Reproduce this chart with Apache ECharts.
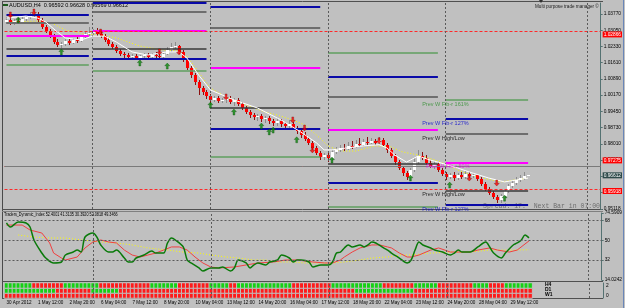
<!DOCTYPE html>
<html><head><meta charset="utf-8">
<script src="https://cdn.jsdelivr.net/npm/echarts@6/dist/echarts.min.js"></script>
<style>html,body{margin:0;padding:0;background:#c0c0c0;overflow:hidden}#c{width:625px;height:308px}</style>
</head><body><div id="c"></div>
<script>
const SLOTS = 152;
const symbolTitle = 'AUDUSD,H4  0.96592 0.96628 0.96569 0.96612';
const tdiTitle = 'Traders_Dynamic_Index 52.4001 41.3135 30.3920 52.0818 49.3466';
const managerText = 'Multi purpose trade manager \u00a9';
const spreadText = 'Spread: 17.  Next Bar in 07:00';
const timeLabels = ['30 Apr 2012','1 May 12:00','2 May 20:00','6 May 04:00','7 May 12:00','8 May 20:00','10 May 04:00','13 May 12:00','14 May 20:00','16 May 04:00','17 May 12:00','18 May 20:00','22 May 04:00','23 May 12:00','24 May 20:00','28 May 04:00','29 May 12:00'];
const timeLabelIdx = [0,8,16,24,32,40,48,56,64,72,80,88,96,104,112,120,128];
const priceMin = 0.95118, priceMax = 1.0426;
const priceTicks = [1.0377,1.0305,1.0233,1.0161,1.0089,1.0017,0.9945,0.9873,0.9801,0.9729,0.9657,0.9585,0.95118];
const tdiMin = 14.0242, tdiMax = 74.5909;
const tdiTicks = [74.5909,68,50,32,14.0242];
const tdiLevels = [68,50,32];

// [open, close, low, high]
const candles = [
[1.0342,1.0351,1.0333,1.0364],[1.0351,1.0337,1.0328,1.0368],[1.0337,1.0346,1.0328,1.0355],[1.0346,1.0342,1.0333,1.0359],
[1.0342,1.0355,1.0337,1.0364],[1.0355,1.0364,1.0346,1.0373],[1.0364,1.0373,1.0355,1.0386],[1.0373,1.0377,1.0359,1.0391],
[1.0377,1.0351,1.0342,1.0386],[1.0351,1.0319,1.0311,1.0359],[1.0319,1.0302,1.0293,1.0328],[1.0302,1.0279,1.0271,1.0311],
[1.0279,1.0253,1.0244,1.0288],[1.0253,1.0240,1.0231,1.0266],[1.0240,1.0244,1.0226,1.0253],[1.0244,1.0257,1.0235,1.0266],
[1.0257,1.0248,1.0240,1.0266],[1.0248,1.0262,1.0244,1.0271],[1.0262,1.0257,1.0248,1.0275],[1.0257,1.0275,1.0253,1.0284],
[1.0275,1.0288,1.0271,1.0302],[1.0288,1.0293,1.0279,1.0319],[1.0293,1.0302,1.0284,1.0311],[1.0302,1.0288,1.0279,1.0315],
[1.0288,1.0279,1.0271,1.0302],[1.0279,1.0262,1.0253,1.0288],[1.0262,1.0244,1.0235,1.0271],[1.0244,1.0231,1.0222,1.0253],
[1.0231,1.0213,1.0204,1.0240],[1.0213,1.0200,1.0191,1.0222],[1.0200,1.0195,1.0182,1.0209],[1.0195,1.0186,1.0178,1.0204],
[1.0186,1.0191,1.0173,1.0200],[1.0191,1.0182,1.0173,1.0200],[1.0182,1.0191,1.0169,1.0195],[1.0191,1.0195,1.0182,1.0204],
[1.0195,1.0186,1.0178,1.0204],[1.0186,1.0195,1.0182,1.0204],[1.0195,1.0191,1.0182,1.0209],[1.0191,1.0186,1.0178,1.0213],
[1.0186,1.0200,1.0182,1.0209],[1.0200,1.0217,1.0195,1.0231],[1.0217,1.0231,1.0209,1.0248],[1.0231,1.0235,1.0222,1.0253],
[1.0235,1.0209,1.0200,1.0240],[1.0209,1.0173,1.0164,1.0217],[1.0173,1.0137,1.0128,1.0182],[1.0137,1.0106,1.0093,1.0146],
[1.0106,1.0076,1.0062,1.0115],[1.0076,1.0049,1.0018,1.0084],[1.0049,1.0031,1.0018,1.0058],[1.0031,1.0013,1.0000,1.0040],
[1.0013,0.9996,0.9982,1.0022],[0.9996,1.0004,0.9987,1.0013],[1.0004,0.9991,0.9982,1.0013],[0.9991,0.9996,0.9982,1.0004],
[0.9996,1.0000,0.9982,1.0009],[1.0000,0.9987,0.9978,1.0013],[0.9987,0.9996,0.9969,1.0004],[0.9996,0.9978,0.9969,1.0004],
[0.9978,0.9960,0.9951,0.9987],[0.9960,0.9942,0.9933,0.9969],[0.9942,0.9929,0.9915,0.9951],[0.9929,0.9920,0.9907,0.9938],
[0.9920,0.9924,0.9902,0.9933],[0.9924,0.9911,0.9898,0.9933],[0.9911,0.9915,0.9893,0.9924],[0.9915,0.9902,0.9889,0.9924],
[0.9902,0.9893,0.9880,0.9911],[0.9893,0.9902,0.9880,0.9915],[0.9902,0.9889,0.9876,0.9911],[0.9889,0.9880,0.9867,0.9898],
[0.9880,0.9889,0.9871,0.9907],[0.9889,0.9871,0.9862,0.9898],[0.9871,0.9858,0.9845,0.9880],[0.9858,0.9841,0.9828,0.9867],
[0.9841,0.9824,0.9815,0.9854],[0.9824,0.9806,0.9797,0.9832],[0.9806,0.9783,0.9774,0.9815],[0.9783,0.9760,0.9751,0.9792],
[0.9760,0.9742,0.9729,0.9769],[0.9742,0.9751,0.9729,0.9760],[0.9751,0.9738,0.9720,0.9760],[0.9738,0.9765,0.9725,0.9774],
[0.9765,0.9774,0.9756,0.9788],[0.9774,0.9783,0.9765,0.9797],[0.9783,0.9779,0.9769,0.9801],[0.9779,0.9792,0.9774,0.9810],
[0.9792,0.9788,0.9779,0.9815],[0.9788,0.9801,0.9783,0.9819],[0.9801,0.9797,0.9788,0.9828],[0.9797,0.9810,0.9792,0.9824],
[0.9810,0.9806,0.9797,0.9832],[0.9806,0.9815,0.9801,0.9828],[0.9815,0.9806,0.9797,0.9824],[0.9806,0.9819,0.9801,0.9832],
[0.9819,0.9797,0.9788,0.9828],[0.9797,0.9774,0.9760,0.9806],[0.9774,0.9747,0.9738,0.9783],[0.9747,0.9720,0.9707,0.9756],
[0.9720,0.9694,0.9685,0.9729],[0.9694,0.9672,0.9658,0.9703],[0.9672,0.9654,0.9641,0.9680],[0.9654,0.9685,0.9636,0.9694],
[0.9685,0.9720,0.9676,0.9738],[0.9720,0.9747,0.9711,0.9774],[0.9747,0.9738,0.9729,0.9765],[0.9738,0.9716,0.9707,0.9751],
[0.9716,0.9703,0.9694,0.9729],[0.9703,0.9711,0.9689,0.9725],[0.9711,0.9685,0.9676,0.9720],[0.9685,0.9667,0.9658,0.9694],
[0.9667,0.9654,0.9641,0.9676],[0.9654,0.9663,0.9645,0.9672],[0.9663,0.9649,0.9636,0.9676],[0.9649,0.9663,0.9641,0.9672],
[0.9663,0.9654,0.9645,0.9676],[0.9654,0.9667,0.9645,0.9680],[0.9667,0.9658,0.9649,0.9676],[0.9658,0.9663,0.9649,0.9672],
[0.9663,0.9645,0.9636,0.9667],[0.9645,0.9623,0.9614,0.9654],[0.9623,0.9601,0.9592,0.9632],[0.9601,0.9583,0.9574,0.9609],
[0.9583,0.9565,0.9556,0.9592],[0.9565,0.9552,0.9538,0.9574],[0.9552,0.9569,0.9538,0.9578],[0.9569,0.9592,0.9560,0.9601],
[0.9592,0.9614,0.9583,0.9623],[0.9614,0.9627,0.9605,0.9641],[0.9627,0.9641,0.9618,0.9654],[0.9641,0.9649,0.9632,0.9663],
[0.9649,0.9658,0.9641,0.9676],[0.96592,0.96612,0.96569,0.96628]
];

const maFast = [[0,1.0359],[5,1.0368],[8,1.0359],[10,1.0342],[13,1.0297],[15,1.0271],[19,1.0262],[22,1.0279],[25,1.0279],[28,1.0253],[32,1.0209],[36,1.0195],[41,1.0209],[44,1.0209],[46,1.0182],[49,1.0106],[52,1.0040],[58,0.9996],[64,0.9960],[70,0.9907],[75,0.9854],[79,0.9806],[81,0.9774],[83,0.9774],[87,0.9783],[91,0.9792],[95,0.9797],[97,0.9783],[99,0.9751],[102,0.9720],[105,0.9747],[108,0.9729],[110,0.9720],[115,0.9694],[118,0.9676],[123,0.9649],[127,0.9632],[133,0.9649]];
const maSlow = [[0,1.0342],[8,1.0346],[12,1.0333],[15,1.0306],[20,1.0288],[24,1.0284],[28,1.0271],[34,1.0235],[40,1.0217],[44,1.0213],[46,1.0191],[49,1.0119],[52,1.0049],[56,1.0009],[61,0.9973],[66,0.9942],[69,0.9929],[73,0.9907],[76,0.9885],[79,0.9841],[82,0.9792],[85,0.9769],[89,0.9769],[94,0.9792],[98,0.9788],[101,0.9765],[105,0.9751],[110,0.9725],[115,0.9685],[120,0.9654],[126,0.9632],[133,0.9649]];

const buySignals = [[3,1.0351],[14,1.0209],[34,1.0160],[41,1.0146],[52,0.9973],[58,0.9942],[65,0.9880],[67,0.9854],[68,0.9862],[74,0.9819],[83,0.9729],[103,0.9649],[113,0.9618],[127,0.9560]];
const sellSignals = [[1,1.0373],[7,1.0386],[24,1.0297],[39,1.0209],[44,1.0209],[56,1.0009],[73,0.9907],[76,0.9871],[78,0.9774],[95,0.9815],[118,0.9649],[125,0.9627]];

const weekStart = [0,22,52,82,112];
const weekEnd = [21,51,80,110,133];
const separatorIdx = [22,52,82,112,148];
const fib161Up = [null,null,null,1.0204,0.9995];
const fib127Up = [1.0373,1.0426,1.0408,1.0097,0.9911];
const prevHigh = [1.0337,1.0386,1.0315,1.0012,0.9844];
const fib50 = [1.0279,1.0301,1.0137,0.9862,0.9719];
const prevLow = [1.0222,1.0222,0.9960,0.9711,0.9595];
const fib127Dn = [1.0191,1.0178,0.9867,0.9627,0.9529];
const fib161Dn = [1.0151,1.0124,0.9742,0.9520,null];

const levelLabelText = ['Prev W Fib-r 161%','Prev W Fib-r 127%','Prev W High/Low','Prev W Fib-r 50%','Prev W High/Low','Prev W Fib-r 127%'];
const levelLabelPrice = [0.9995,0.9911,0.9844,0.9719,0.9595,0.9529];
const levelLabelIdx = [106,106,106,107,106,106];
const levelLabelColor = ['#2f8f2f','#0000d0','#000000','#ff00ff','#000000','#0000d0'];

const redLevels = [1.02866,0.97275,0.95918];
const bidPrice = 0.96612;
const priceTags = [1.02866,0.97275,0.96612,0.95918];

const tdiGreen = [[0,65.6],[1,61.9],[3,66.5],[5,65.6],[6,61.9],[7,50.2],[9,38.4],[10,33.9],[12,29.4],[14,30.3],[15,36.6],[17,39.3],[18,41.1],[19,39.3],[20,52.9],[22,56.5],[23,52.9],[24,45.7],[26,39.3],[27,39.3],[28,41.1],[30,33.9],[31,30.3],[32,30.3],[33,33.9],[35,36.6],[37,40.2],[38,38.4],[40,38.4],[41,47.5],[42,52.0],[43,50.2],[45,43.9],[46,32.1],[47,29.4],[49,24.9],[50,22.2],[52,24.9],[54,24.9],[55,25.8],[57,22.2],[58,24.9],[59,32.1],[61,29.4],[62,24.9],[63,27.6],[64,29.4],[66,27.6],[67,30.3],[69,32.1],[70,36.6],[72,33.9],[73,30.3],[74,32.1],[75,32.1],[77,30.3],[78,25.8],[80,27.6],[82,27.6],[83,30.3],[84,38.4],[85,39.3],[86,43.0],[87,45.7],[88,43.9],[90,45.7],[91,43.9],[92,45.7],[93,48.4],[94,47.5],[96,43.0],[97,41.1],[98,38.4],[100,33.9],[102,29.4],[103,32.1],[104,41.1],[105,48.4],[106,45.7],[108,43.0],[109,41.1],[111,39.3],[113,36.6],[114,38.4],[115,41.1],[116,39.3],[118,39.3],[120,43.9],[122,48.4],[123,43.9],[124,38.4],[126,33.9],[127,38.4],[129,45.7],[130,47.5],[131,50.0],[132,54.7],[133,52.08]];
const tdiSignal = [[0,63.7],[2,63.7],[4,63.7],[6,59.2],[9,56.5],[11,47.5],[12,38.4],[14,33.9],[15,32.1],[18,34.8],[20,43.0],[22,48.4],[24,50.2],[26,48.4],[28,47.5],[30,41.1],[32,36.6],[34,34.8],[36,36.6],[38,38.4],[40,41.1],[42,43.9],[44,43.9],[46,41.1],[48,34.8],[50,29.4],[52,25.8],[54,24.9],[58,25.8],[61,27.6],[64,29.4],[68,30.3],[71,32.1],[74,32.1],[78,30.3],[81,29.4],[83,29.4],[85,32.1],[86,34.8],[88,39.3],[90,43.0],[91,43.9],[93,45.7],[95,45.7],[97,43.9],[98,43.0],[100,38.4],[102,34.8],[103,34.8],[105,36.6],[108,41.1],[110,43.0],[113,39.3],[115,39.3],[118,39.3],[120,41.1],[123,43.0],[125,41.1],[128,39.3],[130,41.1],[133,49.35]];
const tdiBase = [[3,54.7],[7,52.9],[11,52.0],[15,52.0],[19,50.2],[24,48.4],[28,47.5],[32,45.7],[36,43.0],[41,41.1],[45,39.3],[49,38.4],[52,36.6],[56,34.8],[59,33.9],[63,32.1],[66,32.1],[69,30.3],[73,30.3],[76,29.4],[80,29.4],[83,29.4],[86,30.3],[90,32.1],[93,33.9],[97,34.8],[100,36.6],[103,36.6],[108,38.4],[113,39.3],[118,39.3],[123,41.1],[128,41.1],[133,41.31]];

const rowNames = ['W1','D1','H4'];
const heatH4 = '1111111'+'00000000'+'111111111'+'0000000000000'+'1111111'+'00000000'+'11111'+'00'+'11111111111111'+'0000000000'+'1111111111111'+'00000000'+'111111'+'000000000'+'1111'+'0000'+'1111111';
const heatD1 = '1111111111111'+'000000000'+'1111111'+'000000000000000000000000000000'+'000000000000000000000000000000'+'111111111111111'+'000000000000000000000000000000';
const heatW1 = '0000000000'+'0000000000'+'0000000000'+'0000000000'+'0000000000'+'0000000000'+'0000000000'+'0000000000'+'0000000000'+'0000000000'+'0000000000'+'0000000000'+'0000000000'+'0000';

const F = 'Liberation Sans';
const slots = Array.from({length: SLOTS}, (_, i) => i);
const chart = echarts.init(document.getElementById('c'), null, {renderer: 'canvas', width: 625, height: 308});

function candleItem(params, api) {
  const j = api.value(0), o = api.value(1), c = api.value(2), l = api.value(3), h = api.value(4);
  const po = api.coord([j, o]), pc = api.coord([j, c]), pl = api.coord([j, l]), ph = api.coord([j, h]);
  const xc = Math.round(po[0]);
  const bull = c >= o;
  const top = Math.round(Math.min(po[1], pc[1])), bot = Math.round(Math.max(po[1], pc[1]));
  return {type: 'group', children: [
    {type: 'line', shape: {x1: xc + 0.5, y1: Math.round(ph[1]), x2: xc + 0.5, y2: Math.round(pl[1])},
     style: {stroke: bull ? '#8c8c8c' : '#8a1010', lineWidth: 1}},
    {type: 'rect', shape: {x: xc - 1, y: top, width: 3, height: Math.max(1, bot - top)},
     style: {fill: bull ? '#ffffff' : '#ff0000'}}
  ]};
}

function segLines(vals, color, width) {
  const data = [];
  vals.forEach((v, k) => { if (v != null) data.push([{coord: [weekStart[k], v]}, {coord: [weekEnd[k], v]}]); });
  return {type: 'line', xAxisIndex: 0, yAxisIndex: 0, data: [], silent: true, z: 1,
    markLine: {symbol: ['none', 'none'], silent: true, animation: false, label: {show: false},
      lineStyle: {color: color, width: width, type: 'solid'}, data: data}};
}

const sepLine = () => ({symbol: ['none','none'], silent: true, animation: false, label: {show: false},
  lineStyle: {color: '#5a5a5a', width: 1, type: [2, 2]}, data: separatorIdx.map(x => ({xAxis: x}))});

const upArrow = 'path://M4,0L8,4L5.5,4L5.5,9L2.5,9L2.5,4L0,4Z';
const downArrow = 'path://M4,9L8,5L5.5,5L5.5,0L2.5,0L2.5,5L0,5Z';

const axisX = (gi, showLabel) => ({
  type: 'category', gridIndex: gi, data: slots, boundaryGap: true,
  axisLine: {show: false}, axisTick: {show: false}, splitLine: {show: false},
  axisLabel: showLabel ? {
    show: true, interval: (idx) => timeLabelIdx.indexOf(idx) >= 0,
    formatter: (v, idx) => timeLabels[timeLabelIdx.indexOf(idx)] || '',
    align: 'left', margin: 2, fontSize: 4.6, fontFamily: F, color: '#000'
  } : {show: false}
});

const hLineSeries = {type: 'line', xAxisIndex: 0, yAxisIndex: 0, data: [], z: 2,
  markLine: {symbol: ['none','none'], silent: true, animation: false, label: {show: false},
    data: redLevels.map(v => ({yAxis: v, lineStyle: {color: '#ff2a2a', width: 1, type: [3, 2]}}))
      .concat([{yAxis: bidPrice, lineStyle: {color: '#7a7a7a', width: 1, type: 'solid'}}])}};

const option = {
  animation: false,
  backgroundColor: '#c0c0c0',
  grid: [
    {left: 4.5, right: 22, top: 3, height: 206},
    {left: 4.5, right: 22, top: 213, height: 67},
    {left: 4.5, right: 22, top: 283, height: 15}
  ],
  xAxis: [axisX(0, false), axisX(1, false), axisX(2, true)],
  yAxis: [
    {type: 'value', gridIndex: 0, position: 'right', min: priceMin, max: priceMax,
     axisLine: {show: true, lineStyle: {color: '#557272', width: 1}},
     axisTick: {show: true, length: 2, customValues: priceTicks, lineStyle: {color: '#557272'}},
     splitLine: {show: false},
     axisLabel: {customValues: priceTicks, formatter: v => v.toFixed(5), fontSize: 4.8, fontFamily: F, color: '#000', margin: 3}},
    {type: 'value', gridIndex: 1, position: 'right', min: tdiMin, max: tdiMax,
     axisLine: {show: true, lineStyle: {color: '#557272', width: 1}},
     axisTick: {show: true, length: 2, customValues: tdiTicks, lineStyle: {color: '#557272'}},
     splitLine: {show: false},
     axisLabel: {customValues: tdiTicks, formatter: v => String(v), fontSize: 4.8, fontFamily: F, color: '#000', margin: 3}},
    {type: 'category', gridIndex: 2, position: 'right', data: rowNames,
     axisLine: {show: true, lineStyle: {color: '#557272', width: 1}},
     axisTick: {show: false}, splitLine: {show: false},
     axisLabel: {fontSize: 4.8, fontFamily: F, color: '#000', margin: 3,
       formatter: (v, i) => i === 0 ? '0' : (i === 2 ? '2' : '')}},
    {type: 'value', gridIndex: 0, position: 'right', min: priceMin, max: priceMax,
     axisLine: {show: false}, axisTick: {show: false}, splitLine: {show: false},
     axisLabel: {customValues: priceTags, margin: 2, fontSize: 4.8, fontFamily: F,
       formatter: v => (Math.abs(v - bidPrice) < 1e-9 ? '{d|' : '{r|') + v.toFixed(5) + '}',
       rich: {r: {backgroundColor: '#ff0000', color: '#ffffff', padding: [1, 1, 0, 1], fontSize: 4.8, fontFamily: F},
              d: {backgroundColor: '#2e4a4a', color: '#ffffff', padding: [1, 1, 0, 1], fontSize: 4.8, fontFamily: F}}}}
  ],
  visualMap: {type: 'piecewise', show: false, seriesIndex: 14, dimension: 2,
    pieces: [{value: 0, color: '#ff1a1a'}, {value: 1, color: '#14d214'}]},
  series: [
    segLines(fib161Dn, '#5f9f5f', 1.5),
    segLines(fib161Up, '#5f9f5f', 1.5),
    segLines(fib127Up, '#0a0aa8', 2),
    segLines(fib127Dn, '#0a0aa8', 2),
    segLines(prevHigh, '#6e6e6e', 2),
    segLines(prevLow, '#3a3a3a', 1.5),
    segLines(fib50, '#ff00ff', 2),
    hLineSeries,
    {type: 'line', xAxisIndex: 0, yAxisIndex: 0, data: maSlow, showSymbol: false, z: 3,
     lineStyle: {color: '#ffff00', width: 1, type: [1, 2]}},
    {type: 'custom', xAxisIndex: 0, yAxisIndex: 0, renderItem: candleItem, z: 4,
     data: candles.map((d, i) => [i, d[0], d[1], d[2], d[3]]),
     encode: {x: 0, y: [1, 2, 3, 4]}, markLine: sepLine()},
    {type: 'line', xAxisIndex: 0, yAxisIndex: 0, data: maFast, showSymbol: false, z: 5,
     lineStyle: {color: '#ffffff', width: 1}},
    {type: 'scatter', xAxisIndex: 0, yAxisIndex: 0, data: buySignals, symbol: upArrow, symbolSize: [5, 6], z: 6,
     itemStyle: {color: '#0a8a0a', borderColor: '#004400', borderWidth: 0.4}},
    {type: 'scatter', xAxisIndex: 0, yAxisIndex: 0, data: sellSignals, symbol: downArrow, symbolSize: [5, 6], z: 6,
     itemStyle: {color: '#ff0000', borderColor: '#6a0000', borderWidth: 0.4}},
    {type: 'scatter', xAxisIndex: 0, yAxisIndex: 0, symbolSize: 0, z: 7,
     data: levelLabelText.map((t, k) => ({value: [levelLabelIdx[k], levelLabelPrice[k]],
       label: {show: true, position: [0, 1], formatter: t, color: levelLabelColor[k], fontSize: 5.5, fontFamily: F}}))},
    {type: 'heatmap', xAxisIndex: 2, yAxisIndex: 2,
     data: [].concat(
       heatW1.split('').map((c, j) => [j, 0, +c]),
       heatD1.split('').map((c, j) => [j, 1, +c]),
       heatH4.split('').map((c, j) => [j, 2, +c])),
     itemStyle: {borderColor: '#c0c0c0', borderWidth: 1}, markLine: sepLine()},
    {type: 'line', xAxisIndex: 1, yAxisIndex: 1, data: tdiBase, showSymbol: false,
     lineStyle: {color: '#ffff00', width: 1, type: [1, 2]},
     markLine: {symbol: ['none','none'], silent: true, animation: false, label: {show: false},
       data: tdiLevels.map(v => ({yAxis: v, lineStyle: {color: '#5a5a5a', width: 1, type: [2, 2]}}))
         .concat(separatorIdx.map(x => ({xAxis: x, lineStyle: {color: '#5a5a5a', width: 1, type: [2, 2]}})))}},
    {type: 'line', xAxisIndex: 1, yAxisIndex: 1, data: tdiSignal, showSymbol: false,
     lineStyle: {color: '#f04040', width: 1}},
    {type: 'line', xAxisIndex: 1, yAxisIndex: 1, data: tdiGreen, showSymbol: false, smooth: 0.3,
     lineStyle: {color: '#0a7a0a', width: 1.5}}
  ],
  graphic: [
    {type: 'line', shape: {x1: 2.5, y1: 1, x2: 2.5, y2: 298}, style: {stroke: '#4a4a4a', lineWidth: 1}, silent: true},
    {type: 'line', shape: {x1: 2, y1: 1.5, x2: 603, y2: 1.5}, style: {stroke: '#505050', lineWidth: 1}, silent: true},
    {type: 'line', shape: {x1: 2, y1: 209.5, x2: 603, y2: 209.5}, style: {stroke: '#505050', lineWidth: 1}, silent: true},
    {type: 'line', shape: {x1: 2, y1: 211.5, x2: 603, y2: 211.5}, style: {stroke: '#808080', lineWidth: 1}, silent: true},
    {type: 'line', shape: {x1: 2, y1: 281.5, x2: 603, y2: 281.5}, style: {stroke: '#505050', lineWidth: 1}, silent: true},
    {type: 'line', shape: {x1: 2, y1: 298.5, x2: 603, y2: 298.5}, style: {stroke: '#505050', lineWidth: 1}, silent: true},
    {type: 'line', shape: {x1: 623.5, y1: 0, x2: 623.5, y2: 308}, style: {stroke: '#6a86b8', lineWidth: 1}, silent: true},
    {type: 'rect', shape: {x: 3, y: 4, width: 5, height: 2}, style: {fill: '#1c5a1c'}, silent: true},
    {type: 'text', x: 9, y: 2, style: {text: symbolTitle, fontSize: 5.5, fontFamily: F, fill: '#000'}, silent: true},
    {type: 'text', x: 4, y: 212.5, scaleX: 0.75, style: {text: tdiTitle, fontSize: 5, fontFamily: F, fill: '#000'}, silent: true},
    {type: 'text', x: 535, y: 3, scaleX: 0.84, style: {text: managerText, fontSize: 5.5, fontFamily: F, fill: '#202020'}, silent: true},
    {type: 'polygon', shape: {points: [[539, 0], [543, 0], [541, 3]]}, style: {fill: '#303030'}, silent: true},
    {type: 'text', x: 483, y: 202.5, style: {text: spreadText, fontSize: 6.5, fontFamily: 'Liberation Mono', fill: '#6e6e6e'}, silent: true},
    {type: 'text', x: 545, y: 282.5, style: {text: 'H4', fontSize: 5, fontWeight: 'bold', fontFamily: F, fill: '#000'}, silent: true},
    {type: 'text', x: 545, y: 287.5, style: {text: 'D1', fontSize: 5, fontWeight: 'bold', fontFamily: F, fill: '#000'}, silent: true},
    {type: 'text', x: 545, y: 292.5, style: {text: 'W1', fontSize: 5, fontWeight: 'bold', fontFamily: F, fill: '#000'}, silent: true}
  ]
};
chart.setOption(option);
</script>
</body></html>
